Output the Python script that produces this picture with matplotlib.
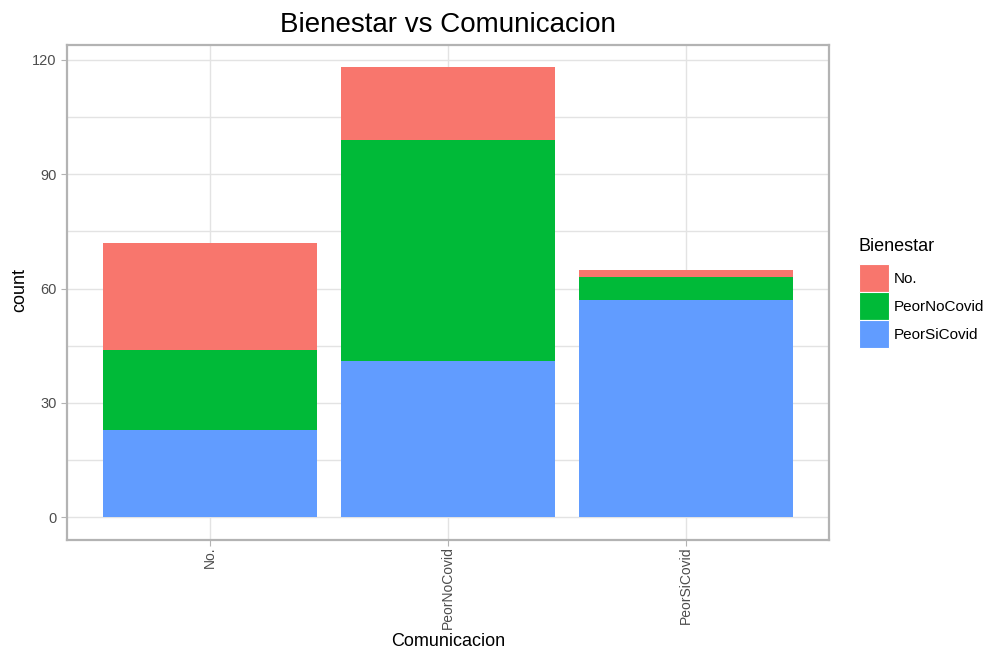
import numpy as np
import matplotlib
matplotlib.use("Agg")
import matplotlib.pyplot as plt
from matplotlib.patches import Patch

plt.rcParams['font.family'] = ['Liberation Sans', 'DejaVu Sans']

# data
categories = ["No.", "PeorNoCovid", "PeorSiCovid"]
levels = ["No.", "PeorNoCovid", "PeorSiCovid"]          # legend order (top of stack first)
count_no = [28, 19, 2]
count_peornocovid = [21, 58, 6]
count_peorsicovid = [23, 41, 57]
colors = {"No.": "#F8766D", "PeorNoCovid": "#00BA38", "PeorSiCovid": "#619CFF"}

fig = plt.figure(figsize=(9.9, 6.52), dpi=100)
ax = fig.add_axes([0.0677, 0.172, 0.7693, 0.759])

x = np.arange(1, len(categories) + 1)
w = 0.9
bottom = np.zeros(len(categories))
for name, vals in [("PeorSiCovid", count_peorsicovid),
                   ("PeorNoCovid", count_peornocovid),
                   ("No.", count_no)]:
    ax.bar(x, vals, width=w, bottom=bottom, color=colors[name], zorder=2, linewidth=0)
    bottom += np.array(vals)

ymax = bottom.max()
ax.set_xlim(0.4, 3.6)
ax.set_ylim(-0.05 * ymax, ymax * 1.05)
ax.set_yticks([0, 30, 60, 90, 120])
ax.set_yticks([15, 45, 75, 105], minor=True)
ax.set_xticks(x)
ax.set_xticklabels(categories, rotation=90, va="top", ha="center")

ax.grid(True, which="both", color="#e3e3e3", linewidth=1.0, zorder=0)
ax.set_axisbelow(True)
for s in ax.spines.values():
    s.set_color("#b3b3b3")
    s.set_linewidth(1.6)
ax.tick_params(which="major", length=4, color="#b3b3b3", labelcolor="#4d4d4d", labelsize=10.5)
ax.tick_params(axis="x", labelsize=10, pad=0.5)
ax.tick_params(which="minor", length=0)

fig.text(0.4525, 0.003, "Comunicacion", fontsize=13, ha="center", va="bottom")
fig.text(0.020, 0.555, "count", fontsize=13, ha="center", va="center", rotation=90)
ax.set_title("Bienestar vs Comunicacion", fontsize=20, pad=9)

handles = [Patch(facecolor=colors[n], edgecolor="white", linewidth=0.8, label=n) for n in levels]
leg = fig.legend(handles=handles, title="Bienestar", loc="upper left",
                 bbox_to_anchor=(0.861, 0.645), frameon=False, fontsize=11,
                 title_fontsize=13, handlelength=2.0, handleheight=2.4,
                 labelspacing=0.03, handletextpad=0.3, borderaxespad=0)
leg._legend_box.align = "left"
leg._legend_box.sep = 7

fig.savefig("out.png", dpi=100)
